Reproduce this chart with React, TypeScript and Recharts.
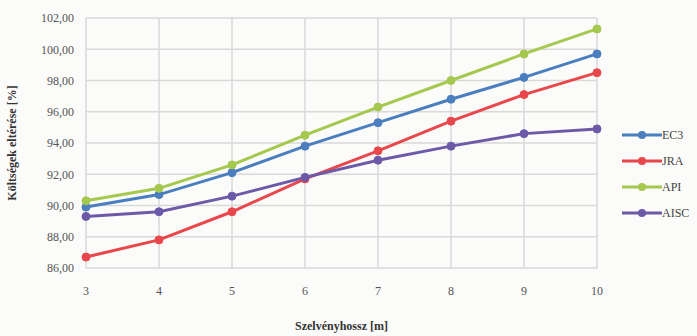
import { LineChart, Line, XAxis, YAxis, CartesianGrid } from "recharts";

const lengths = [3, 4, 5, 6, 7, 8, 9, 10];
const ec3 = [89.9, 90.7, 92.1, 93.8, 95.3, 96.8, 98.2, 99.7];
const jra = [86.7, 87.8, 89.6, 91.7, 93.5, 95.4, 97.1, 98.5];
const api = [90.3, 91.1, 92.6, 94.5, 96.3, 98.0, 99.7, 101.3];
const aisc = [89.3, 89.6, 90.6, 91.8, 92.9, 93.8, 94.6, 94.9];
const yTicks = [86, 88, 90, 92, 94, 96, 98, 100, 102];

const SERIES = [
  { key: "EC3", color: "#4a7ebf" },
  { key: "JRA", color: "#e8484b" },
  { key: "API", color: "#a5c84e" },
  { key: "AISC", color: "#6c5aa8" },
];

const data = lengths.map((x, i) => ({
  x,
  EC3: ec3[i],
  JRA: jra[i],
  API: api[i],
  AISC: aisc[i],
}));

const FONT = "'Liberation Serif', 'Times New Roman', Tinos, 'DejaVu Serif', serif";

const fmt = (v: number) => v.toFixed(2).replace(".", ",");

const App = () => {
  return (
    <div style={{ position: "absolute", left: 0, top: 0, width: 697, height: 336, background: "#fbfbfa", fontFamily: FONT }}>
      <LineChart width={697} height={336} data={data} margin={{ top: 18, right: 100, bottom: 0, left: 0 }} style={{ fontFamily: FONT }}>
        <CartesianGrid stroke="#d9d9d9" strokeWidth={1.5} />
        <XAxis
          dataKey="x"
          type="number"
          domain={[3, 10]}
          ticks={lengths}
          interval={0}
          axisLine={false}
          tickLine={false}
          tickSize={0}
          tickMargin={18}
          height={68}
          tick={{ fontFamily: FONT, fontSize: 12, fill: "#555" }}
          label={{
            value: "Szelvényhossz [m]",
            position: "insideBottom",
            offset: 6,
            style: { fontFamily: FONT, fontSize: 12, fontWeight: "bold", fill: "#333" },
          }}
        />
        <YAxis
          type="number"
          domain={[86, 102]}
          ticks={yTicks}
          interval={0}
          axisLine={false}
          tickLine={false}
          tickSize={0}
          tickMargin={12}
          width={86}
          tickFormatter={fmt}
          tick={{ fontFamily: FONT, fontSize: 12, fill: "#555" }}
          label={{
            value: "Költségek eltérése [%]",
            angle: -90,
            position: "insideLeft",
            offset: 12,
            style: { textAnchor: "middle", fontFamily: FONT, fontSize: 12, fontWeight: "bold", fill: "#333" },
          }}
        />
        {SERIES.map((s) => (
          <Line
            key={s.key}
            type="linear"
            dataKey={s.key}
            stroke={s.color}
            strokeWidth={3}
            dot={{ r: 4, fill: s.color, stroke: s.color, strokeWidth: 1 }}
            isAnimationActive={false}
          />
        ))}
      </LineChart>
      <div style={{ position: "absolute", left: 622, top: 122, fontSize: 12, color: "#444" }}>
        {SERIES.map((s) => (
          <div key={s.key} style={{ display: "flex", alignItems: "center", height: 26 }}>
            <svg width={40} height={10}>
              <line x1={0} y1={5} x2={40} y2={5} stroke={s.color} strokeWidth={3} />
              <circle cx={20} cy={5} r={4} fill={s.color} />
            </svg>
            <span>{s.key}</span>
          </div>
        ))}
      </div>
    </div>
  );
};

export default App;
